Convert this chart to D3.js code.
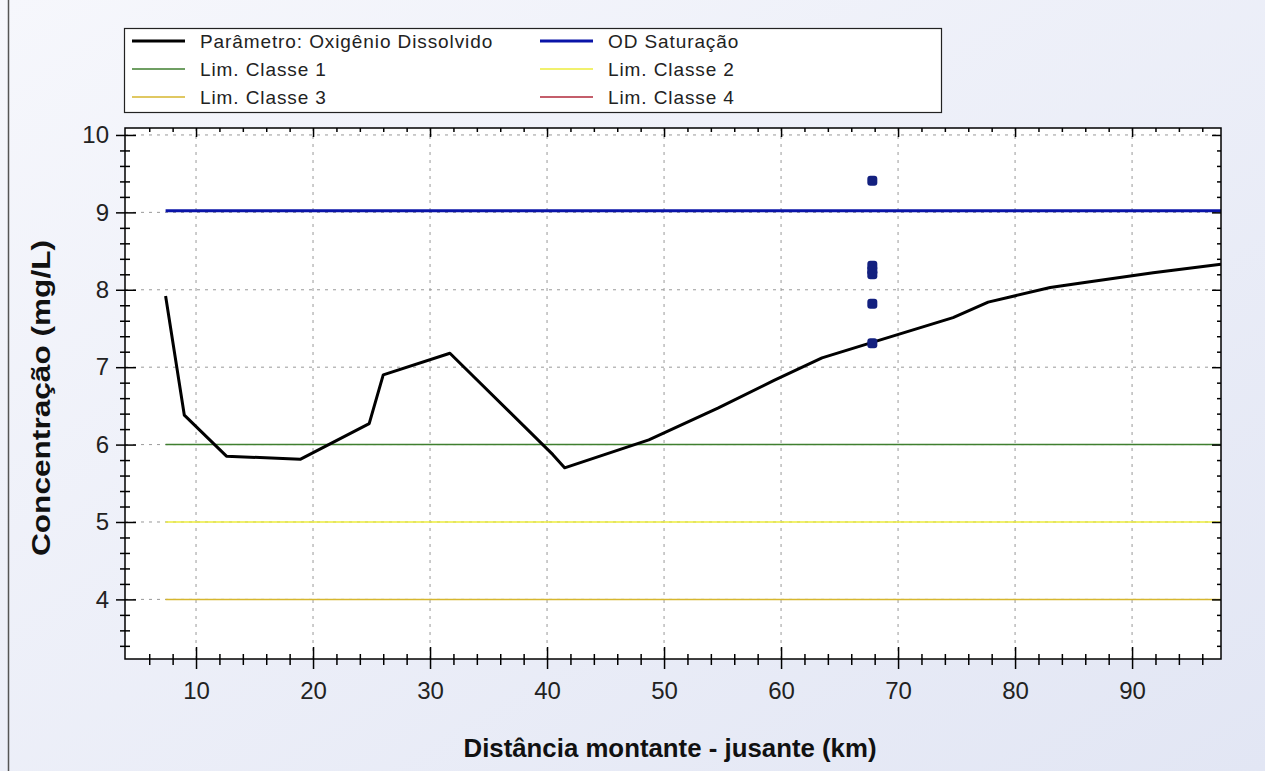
<!DOCTYPE html>
<html>
<head>
<meta charset="utf-8">
<script src="https://cdn.jsdelivr.net/npm/d3@7"></script>
<style>
  body { margin: 0; }
  svg { display: block; font-family: "Liberation Sans", Arial, sans-serif; }
</style>
</head>
<body>
<svg id="chart" width="1265" height="771"></svg>
<script>
const width = 1265;
const height = 771;

// perfil simulado de OD (km, mg/L)
const distKm = [7.4, 9.0, 12.6, 18.9, 24.8, 26.0, 31.7, 40.5, 41.5, 48.7, 54.6, 59.4, 63.5, 67.8, 74.7, 77.7, 83.0, 85.8, 91.8, 97.6];
const odValues = [7.92, 6.38, 5.85, 5.81, 6.27, 6.90, 7.18, 5.87, 5.70, 6.06, 6.47, 6.83, 7.12, 7.32, 7.64, 7.84, 8.03, 8.09, 8.22, 8.33];

// dados observados
const obsKm = [67.8, 67.8, 67.8, 67.8, 67.8, 67.8];
const obsValues = [9.41, 8.31, 8.25, 8.20, 7.82, 7.31];

// limites
const odSaturacao = 9.02;
const limNames = ['Lim. Classe 1', 'Lim. Classe 2', 'Lim. Classe 3', 'Lim. Classe 4'];
const limValues = [6, 5, 4, 2];
const limColors = ['#3f7f2f', '#ecec3c', '#d6b62e', '#b0283a'];

const xTicks = [10, 20, 30, 40, 50, 60, 70, 80, 90];
const yTicks = [4, 5, 6, 7, 8, 9, 10];

const margin = { left: 125, right: 1221, top: 128, bottom: 659 };

const x = d3.scaleLinear().domain([3.93, 97.6]).range([margin.left, margin.right]);
const y = d3.scaleLinear().domain([3.23, 10.09]).range([margin.bottom, margin.top]);

const svg = d3.select("#chart");

// fundo
const defs = svg.append("defs");
const grad = defs.append("linearGradient").attr("id", "bg")
    .attr("x1", "0").attr("y1", "0").attr("x2", "1").attr("y2", "1");
grad.append("stop").attr("offset", "0").attr("stop-color", "#f6f7fc");
grad.append("stop").attr("offset", "1").attr("stop-color", "#e2e6f4");
svg.append("rect").attr("width", width).attr("height", height).attr("fill", "url(#bg)");
svg.append("line").attr("x1", 8.5).attr("x2", 8.5).attr("y1", 0).attr("y2", height)
    .attr("stroke", "#555").attr("stroke-width", 1.5);

defs.append("clipPath").attr("id", "plotClip").append("rect")
    .attr("x", margin.left).attr("y", margin.top)
    .attr("width", margin.right - margin.left).attr("height", margin.bottom - margin.top);

// área do gráfico
svg.append("rect")
    .attr("x", margin.left).attr("y", margin.top)
    .attr("width", margin.right - margin.left).attr("height", margin.bottom - margin.top)
    .attr("fill", "#fff");

// grade
const grid = svg.append("g").attr("stroke", "#999").attr("stroke-width", 1).attr("stroke-dasharray", "3,5");
grid.selectAll(".gx").data(xTicks).enter().append("line")
    .attr("x1", d => x(d)).attr("x2", d => x(d))
    .attr("y1", margin.top).attr("y2", margin.bottom);
grid.selectAll(".gy").data(yTicks).enter().append("line")
    .attr("y1", d => y(d)).attr("y2", d => y(d))
    .attr("x1", margin.left).attr("x2", margin.right);

const plot = svg.append("g").attr("clip-path", "url(#plotClip)");

// linhas de limite
limValues.forEach((v, i) => {
    plot.append("line")
        .attr("x1", x(distKm[0])).attr("x2", x(97.6))
        .attr("y1", y(v)).attr("y2", y(v))
        .attr("stroke", limColors[i]).attr("stroke-width", 1.5);
});

plot.append("line")
    .attr("x1", x(distKm[0])).attr("x2", x(97.6))
    .attr("y1", y(odSaturacao)).attr("y2", y(odSaturacao))
    .attr("stroke", "#0a14a8").attr("stroke-width", 3);

// perfil
const line = d3.line().x((d, i) => x(distKm[i])).y(d => y(d));
plot.append("path")
    .datum(odValues)
    .attr("d", line)
    .attr("fill", "none")
    .attr("stroke", "#000")
    .attr("stroke-width", 3)
    .attr("stroke-linejoin", "round");

// observados
plot.selectAll(".obs").data(obsValues).enter().append("rect")
    .attr("x", (d, i) => x(obsKm[i]) - 5)
    .attr("y", d => y(d) - 5)
    .attr("width", 10).attr("height", 10)
    .attr("rx", 3)
    .attr("fill", "#13207f");

// eixos
const xMinor = d3.range(6, 97, 2).filter(v => v % 10 !== 0);
const yMinor = d3.range(3.4, 10.01, 0.2).map(v => +v.toFixed(1)).filter(v => Math.abs(v - Math.round(v)) > 0.01);

function styleAxis(g) {
    g.select(".domain").remove();
    g.selectAll(".tick line").attr("stroke", "#000").attr("stroke-width", 1.5);
}

function styleLabels(g) {
    g.selectAll("text").attr("font-size", 24).attr("fill", "#222")
        .attr("font-family", "Liberation Sans, Arial, sans-serif");
}

// inferior
svg.append("g").attr("transform", `translate(0,${margin.bottom})`)
    .call(d3.axisBottom(x).tickValues(xTicks).tickSize(10).tickPadding(13).tickFormat(d3.format("d")))
    .call(styleAxis)
    .call(styleLabels);
svg.append("g").attr("transform", `translate(0,${margin.bottom})`)
    .call(d3.axisTop(x).tickValues(xTicks).tickSize(12).tickFormat(""))
    .call(styleAxis);
svg.append("g").attr("transform", `translate(0,${margin.bottom})`)
    .call(d3.axisBottom(x).tickValues(xMinor).tickSize(6).tickFormat(""))
    .call(styleAxis);
svg.append("g").attr("transform", `translate(0,${margin.bottom})`)
    .call(d3.axisTop(x).tickValues(xMinor).tickSize(5).tickFormat(""))
    .call(styleAxis);

// superior
svg.append("g").attr("transform", `translate(0,${margin.top})`)
    .call(d3.axisBottom(x).tickValues(xTicks).tickSize(9).tickFormat(""))
    .call(styleAxis);
svg.append("g").attr("transform", `translate(0,${margin.top})`)
    .call(d3.axisBottom(x).tickValues(xMinor).tickSize(4).tickFormat(""))
    .call(styleAxis);

// esquerdo
svg.append("g").attr("transform", `translate(${margin.left},0)`)
    .call(d3.axisLeft(y).tickValues(yTicks).tickSize(9).tickPadding(7).tickFormat(d3.format("d")))
    .call(styleAxis)
    .call(styleLabels);
svg.append("g").attr("transform", `translate(${margin.left},0)`)
    .call(d3.axisRight(y).tickValues(yTicks).tickSize(11).tickFormat(""))
    .call(styleAxis);
svg.append("g").attr("transform", `translate(${margin.left},0)`)
    .call(d3.axisLeft(y).tickValues(yMinor).tickSize(5).tickFormat(""))
    .call(styleAxis);
svg.append("g").attr("transform", `translate(${margin.left},0)`)
    .call(d3.axisRight(y).tickValues(yMinor).tickSize(5).tickFormat(""))
    .call(styleAxis);

// direito
svg.append("g").attr("transform", `translate(${margin.right},0)`)
    .call(d3.axisLeft(y).tickValues(yTicks).tickSize(9).tickFormat(""))
    .call(styleAxis);
svg.append("g").attr("transform", `translate(${margin.right},0)`)
    .call(d3.axisLeft(y).tickValues(yMinor).tickSize(4).tickFormat(""))
    .call(styleAxis);

// moldura
svg.append("rect")
    .attr("x", margin.left).attr("y", margin.top)
    .attr("width", margin.right - margin.left).attr("height", margin.bottom - margin.top)
    .attr("fill", "none").attr("stroke", "#000").attr("stroke-width", 1.5);

// títulos
svg.append("text")
    .attr("x", 670).attr("y", 757)
    .attr("text-anchor", "middle")
    .attr("font-size", 26).attr("font-weight", "bold").attr("fill", "#111")
    .attr("textLength", 413).attr("lengthAdjust", "spacingAndGlyphs")
    .text("Distância montante - jusante (km)");

svg.append("text")
    .attr("transform", "translate(50,398) rotate(-90)")
    .attr("text-anchor", "middle")
    .attr("font-size", 26).attr("font-weight", "bold").attr("fill", "#111")
    .attr("textLength", 316).attr("lengthAdjust", "spacingAndGlyphs")
    .text("Concentração (mg/L)");

// legenda
const legendItems = [
    { label: 'Parâmetro: Oxigênio Dissolvido', color: '#000', w: 3 },
    { label: 'OD Saturação', color: '#0a14a8', w: 3 },
    { label: limNames[0], color: limColors[0], w: 1.5 },
    { label: limNames[1], color: limColors[1], w: 1.5 },
    { label: limNames[2], color: limColors[2], w: 1.5 },
    { label: limNames[3], color: limColors[3], w: 1.5 }
];

const legend = svg.append("g");
legend.append("rect")
    .attr("x", 124.5).attr("y", 28.5).attr("width", 817).attr("height", 84)
    .attr("fill", "#fff").attr("stroke", "#222").attr("stroke-width", 1.2);

const items = legend.selectAll(".item").data(legendItems).enter().append("g")
    .attr("transform", (d, i) => `translate(${i % 2 === 0 ? 132 : 540},${41 + Math.floor(i / 2) * 28})`);
items.append("line")
    .attr("x1", 0).attr("x2", 53).attr("y1", 0).attr("y2", 0)
    .attr("stroke", d => d.color).attr("stroke-width", d => d.w);
items.append("text")
    .attr("x", 68).attr("y", 6.5)
    .attr("font-size", 19).attr("letter-spacing", 0.9).attr("fill", "#222")
    .text(d => d.label);
</script>
</body>
</html>
